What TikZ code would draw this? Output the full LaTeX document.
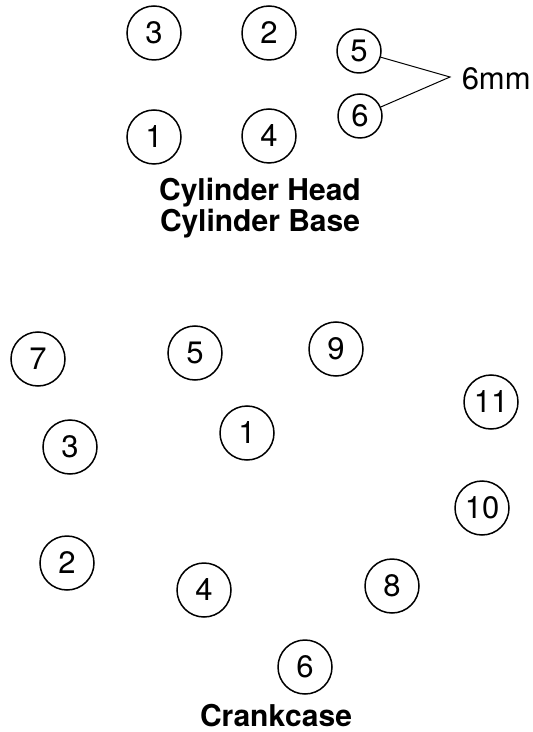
\documentclass[tikz,border=0pt]{standalone}
\usepackage{fontspec}
\setmainfont{TeX Gyre Heros}
\usetikzlibrary{positioning}

\begin{document}
\begin{tikzpicture}[x=0.5pt, y=-0.5pt, font=\fontsize{15.5}{17}\selectfont, line width=0.75pt,
    bolt/.style={draw, circle, minimum size=27pt, inner sep=0pt},
    smallbolt/.style={draw, circle, minimum size=22pt, inner sep=0pt},
    title/.style={font=\fontsize{15}{14.3}\selectfont\bfseries, align=center}]
    \useasboundingbox (0,0) rectangle (532,732);

    % cylinder head / base
    \node[bolt] (h3) at (154,33) {3};
    \node[bolt] (h2) at (269,33) {2};
    \node[bolt] (h1) at (154,137) {1};
    \node[bolt] (h4) at (269,136) {4};
    \node[smallbolt] (h5) at (359,51) {5};
    \node[smallbolt] (h6) at (360,116) {6};
    \coordinate (tip) at (450,77);
    \node[anchor=west, inner sep=0pt] (mm) at (461,79) {6mm};
    \draw[line width=0.5pt] (h5) -- (tip) -- (h6);
    \node[title] (head) at (260,208) {Cylinder Head\\Cylinder Base};

    % crankcase
    \node[bolt] (c7) at (38,359) {7};
    \node[bolt] (c5) at (195,353) {5};
    \node[bolt] (c9) at (336,349) {9};
    \node[bolt] (c11) at (491,402) {11};
    \node[bolt] (c1) at (247,433) {1};
    \node[bolt] (c3) at (70,447) {3};
    \node[bolt] (c10) at (482,508) {10};
    \node[bolt] (c2) at (67,563) {2};
    \node[bolt] (c4) at (204,590) {4};
    \node[bolt] (c8) at (392,586) {8};
    \node[bolt] (c6) at (305,667) {6};
    \node[title] (crank) at (276,716) {Crankcase};
\end{tikzpicture}
\end{document}
